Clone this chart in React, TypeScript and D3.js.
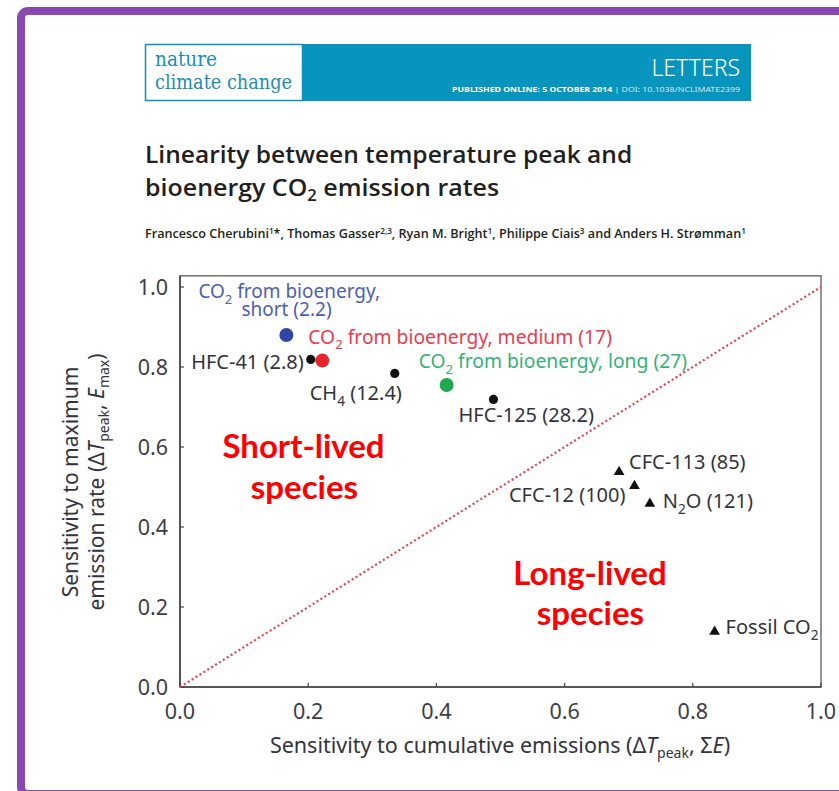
import React, { useLayoutEffect, useRef, useState } from "react";
import * as d3 from "d3";

// Species shown in the scatter (x: sensitivity to cumulative emissions,
// y: sensitivity to maximum emission rate), with lifetimes in years.
const speciesNames = [
  "CO2 from bioenergy, short",
  "CO2 from bioenergy, medium",
  "CO2 from bioenergy, long",
  "HFC-41",
  "CH4",
  "HFC-125",
  "CFC-113",
  "CFC-12",
  "N2O",
  "Fossil CO2",
];
const lifetimes = ["2.2", "17", "27", "2.8", "12.4", "28.2", "85", "100", "121", ""];
const cumulativeSensitivity = [0.166, 0.222, 0.416, 0.204, 0.335, 0.489, 0.685, 0.709, 0.733, 0.834];
const rateSensitivity = [0.88, 0.816, 0.755, 0.819, 0.784, 0.719, 0.54, 0.505, 0.461, 0.141];
const markerKinds = ["big", "big", "big", "dot", "dot", "dot", "tri", "tri", "tri", "tri"];

const xTicks = [0, 0.2, 0.4, 0.6, 0.8, 1.0];
const yTicks = [0, 0.2, 0.4, 0.6, 0.8, 1.0];
const yTop = 1.028;

// Label styling per species: colours, font size and offsets from the marker (px).
const labelStyle: Record<
  string,
  { fill: string; mark: string; anchor: string; dx: number; dy: number; size: number; wrap?: boolean }
> = {
  "CO2 from bioenergy, short": { fill: "#4d5fb0", mark: "#2f46a6", anchor: "start", dx: -88, dy: -37, size: 19, wrap: true },
  "CO2 from bioenergy, medium": { fill: "#ef3a4c", mark: "#e8232b", anchor: "start", dx: -14, dy: -17, size: 19.3 },
  "CO2 from bioenergy, long": { fill: "#35b27c", mark: "#1fa84f", anchor: "start", dx: -28, dy: -17, size: 19.3 },
  "HFC-41": { fill: "#333340", mark: "#111", anchor: "end", dx: -7, dy: 10, size: 20 },
  CH4: { fill: "#333340", mark: "#111", anchor: "start", dx: -85, dy: 27, size: 20 },
  "HFC-125": { fill: "#333340", mark: "#111", anchor: "start", dx: -35, dy: 23, size: 20 },
  "CFC-113": { fill: "#333340", mark: "#111", anchor: "start", dx: 10, dy: -2, size: 20 },
  "CFC-12": { fill: "#333340", mark: "#111", anchor: "end", dx: -9, dy: 17, size: 20 },
  N2O: { fill: "#333340", mark: "#111", anchor: "start", dx: 13, dy: 5, size: 20 },
  "Fossil CO2": { fill: "#333340", mark: "#111", anchor: "start", dx: 11, dy: 3, size: 20 },
};

const W = 839;
const H = 791;
const plot = { left: 180, right: 821, top: 287, bottom: 687 };
const sansFont = "'Noto Sans', 'Open Sans', sans-serif";

// Render a chemical name, lowering digits that directly follow a letter.
function chem(text: string, size: number, keyBase: string) {
  const parts: React.ReactNode[] = [];
  const shift = size * 0.3;
  let buf = "";
  let pendingUp = 0;
  let k = 0;
  const flush = () => {
    if (buf) {
      parts.push(
        <tspan key={keyBase + k++} dy={pendingUp || undefined} fontSize={size}>
          {buf}
        </tspan>
      );
      pendingUp = 0;
      buf = "";
    }
  };
  for (let i = 0; i < text.length; i++) {
    const c = text[i];
    const prev = i > 0 ? text[i - 1] : "";
    if (/[0-9]/.test(c) && /[A-Za-z]/.test(prev)) {
      flush();
      parts.push(
        <tspan key={keyBase + k++} dy={shift} fontSize={size * 0.68}>
          {c}
        </tspan>
      );
      pendingUp = -shift;
    } else {
      buf += c;
    }
  }
  flush();
  return parts;
}

// Text squeezed horizontally to a given width (condensed typeface look).
function FitText(props: {
  x: number;
  y: number;
  width: number;
  anchor?: string;
  children: React.ReactNode;
  [k: string]: any;
}) {
  const { x, y, width, anchor, children, ...rest } = props;
  const ref = useRef<SVGTextElement>(null);
  const [s, setS] = useState(1);
  useLayoutEffect(() => {
    const measure = () => {
      const el = ref.current;
      if (!el) return;
      const w = el.getComputedTextLength();
      if (w > 0) setS(width / w);
    };
    measure();
    if ((document as any).fonts && (document as any).fonts.ready) {
      (document as any).fonts.ready.then(measure);
    }
  }, [width]);
  return (
    <text ref={ref} transform={`translate(${x},${y}) scale(${s},1)`} textAnchor={anchor || "start"} {...rest}>
      {children}
    </text>
  );
}

export default function App() {
  const x = d3.scaleLinear().domain([0, 1]).range([plot.left, plot.right]);
  const y = d3.scaleLinear().domain([0, 1]).range([plot.bottom, plot.top]);
  const diag = d3.line<[number, number]>().x((d) => x(d[0])).y((d) => y(d[1]));
  const tri = d3.symbol().type(d3.symbolTriangle).size(50)();

  return (
    <svg
      width={W}
      height={H}
      viewBox={`0 0 ${W} ${H}`}
      style={{ position: "absolute", left: 0, top: 0, display: "block", background: "#fff" }}
    >
      {/* purple frame */}
      <rect x={21} y={11} width={900} height={783} rx={7} fill="#fff" stroke="#8a48b0" strokeWidth={8} />

      {/* journal banner */}
      <rect x={302} y={44} width={449} height={57} fill="#0794bd" />
      <rect x={145.5} y={44.5} width={157} height={56} fill="#fff" stroke="#0794bd" strokeWidth={1.5} />
      <FitText x={155} y={66} width={62} fontFamily="'DejaVu Serif', 'Liberation Serif', serif" fontSize={21} fill="#1b8db4">
        nature
      </FitText>
      <FitText x={155} y={89} width={137} fontFamily="'DejaVu Serif', 'Liberation Serif', serif" fontSize={21} fill="#1b8db4">
        climate change
      </FitText>
      <text x={740} y={76} textAnchor="end" fontFamily={sansFont} fontSize={23} fill="#fff" fontWeight={300}>
        LETTERS
      </text>
      <FitText x={740} y={92} width={288} anchor="end" fontFamily={sansFont} fontSize={7.6} fontWeight={700} fill="#fff">
        PUBLISHED ONLINE: 5 OCTOBER 2014 <tspan fill="#cfe9f3" fontWeight={400}>| DOI: 10.1038/NCLIMATE2399</tspan>
      </FitText>

      {/* article title */}
      <FitText x={145} y={163} width={487} fontFamily="'Open Sans', sans-serif" fontSize={24} fontWeight={600} fill="#231f20">
        Linearity between temperature peak and
      </FitText>
      <FitText x={145} y={196} width={354} fontFamily="'Open Sans', sans-serif" fontSize={24} fontWeight={600} fill="#231f20">
        bioenergy CO<tspan dy={5} fontSize={16}>2</tspan><tspan dy={-5}> emission rates</tspan>
      </FitText>
      <FitText x={145} y={238} width={601} fontFamily="'Open Sans', sans-serif" fontSize={13} fontWeight={600} fill="#231f20">
        Francesco Cherubini<tspan dy={-4} fontSize={8.5}>1</tspan><tspan dy={4}>*, Thomas Gasser</tspan>
        <tspan dy={-4} fontSize={8.5}>2,3</tspan><tspan dy={4}>, Ryan M. Bright</tspan>
        <tspan dy={-4} fontSize={8.5}>1</tspan><tspan dy={4}>, Philippe Ciais</tspan>
        <tspan dy={-4} fontSize={8.5}>3</tspan><tspan dy={4}> and Anders H. Strømman</tspan>
        <tspan dy={-4} fontSize={8.5}>1</tspan>
      </FitText>

      {/* plot frame */}
      <rect
        x={x(0)}
        y={y(yTop)}
        width={x(1) - x(0)}
        height={y(0) - y(yTop)}
        fill="none"
        stroke="#7a7a7a"
        strokeWidth={1.6}
      />
      <line x1={x(0)} x2={x(0)} y1={y(0)} y2={y(yTop)} stroke="#444" strokeWidth={1.6} />
      <line x1={x(0)} x2={x(1)} y1={y(0)} y2={y(0)} stroke="#444" strokeWidth={1.6} />

      {/* ticks */}
      {yTicks.map((t) => (
        <g key={"y" + t}>
          <line x1={x(0)} x2={x(0) + 4} y1={y(t)} y2={y(t)} stroke="#444" strokeWidth={1.2} />
          <text x={x(0) - 12} y={y(t) + 8} textAnchor="end" fontFamily={sansFont} fontSize={21.5} fill="#3d3d48">
            {d3.format(".1f")(t)}
          </text>
        </g>
      ))}
      {xTicks.map((t) => (
        <g key={"x" + t}>
          <line x1={x(t)} x2={x(t)} y1={y(0)} y2={y(0) - 4} stroke="#444" strokeWidth={1.2} />
          <text x={x(t)} y={y(0) + 32} textAnchor="middle" fontFamily={sansFont} fontSize={21.5} fill="#3d3d48">
            {d3.format(".1f")(t)}
          </text>
        </g>
      ))}

      {/* 1:1 line */}
      <path
        d={diag([[0, 0], [1, 1]]) || ""}
        fill="none"
        stroke="#e8414e"
        strokeWidth={2.2}
        strokeDasharray="2 2.6"
      />

      {/* axis titles */}
      <text x={500} y={753} textAnchor="middle" fontFamily={sansFont} fontSize={21.5} fill="#333340">
        Sensitivity to cumulative emissions (Δ<tspan fontStyle="italic">T</tspan>
        <tspan dy={5} fontSize={14}>peak</tspan>
        <tspan dy={-5}>, Σ</tspan>
        <tspan fontStyle="italic">E</tspan>)
      </text>
      <g transform="translate(78,482) rotate(-90)">
        <text textAnchor="middle" fontFamily={sansFont} fontSize={21} fill="#333340">
          Sensitivity to maximum
        </text>
      </g>
      <g transform="translate(104,482) rotate(-90)">
        <text textAnchor="middle" fontFamily={sansFont} fontSize={21} fill="#333340">
          emission rate (Δ<tspan fontStyle="italic">T</tspan>
          <tspan dy={5} fontSize={14}>peak</tspan>
          <tspan dy={-5}>, </tspan>
          <tspan fontStyle="italic">E</tspan>
          <tspan dy={5} fontSize={14}>max</tspan>
          <tspan dy={-5}>)</tspan>
        </text>
      </g>

      {/* region annotations */}
      <g fontFamily="Lato, 'Open Sans', sans-serif" fontWeight={700} fontSize={33} fill="#ff0000" textAnchor="middle">
        <text x={303.5} y={458}>Short-lived</text>
        <text x={304.5} y={499}>species</text>
        <text x={590} y={585}>Long-lived</text>
        <text x={590.5} y={625}>species</text>
      </g>

      {/* markers */}
      {speciesNames.map((name, i) => {
        const cx = x(cumulativeSensitivity[i]);
        const cy = y(rateSensitivity[i]);
        const st = labelStyle[name];
        const kind = markerKinds[i];
        if (kind === "big") return <circle key={name} cx={cx} cy={cy} r={7} fill={st.mark} />;
        if (kind === "dot") return <circle key={name} cx={cx} cy={cy} r={4.6} fill={st.mark} />;
        return <path key={name} d={tri || ""} transform={`translate(${cx},${cy + 1})`} fill={st.mark} />;
      })}

      {/* marker labels */}
      {speciesNames.map((name, i) => {
        const cx = x(cumulativeSensitivity[i]);
        const cy = y(rateSensitivity[i]);
        const st = labelStyle[name];
        const full = lifetimes[i] ? `${name} (${lifetimes[i]})` : name;
        if (st.wrap) {
          const cut = full.indexOf(",") + 1;
          const l1 = full.slice(0, cut);
          const l2 = full.slice(cut + 1);
          return (
            <text key={"l" + name} x={cx + st.dx} y={cy + st.dy} fontFamily={sansFont} fontSize={st.size} fill={st.fill}>
              {chem(l1, st.size, name + "a")}
              <tspan x={cx + st.dx + 43} y={cy + st.dy + 18}>
                {l2}
              </tspan>
            </text>
          );
        }
        return (
          <text
            key={"l" + name}
            x={cx + st.dx}
            y={cy + st.dy}
            textAnchor={st.anchor}
            fontFamily={sansFont}
            fontSize={st.size}
            fill={st.fill}
          >
            {chem(full, st.size, name)}
          </text>
        );
      })}
    </svg>
  );
}
